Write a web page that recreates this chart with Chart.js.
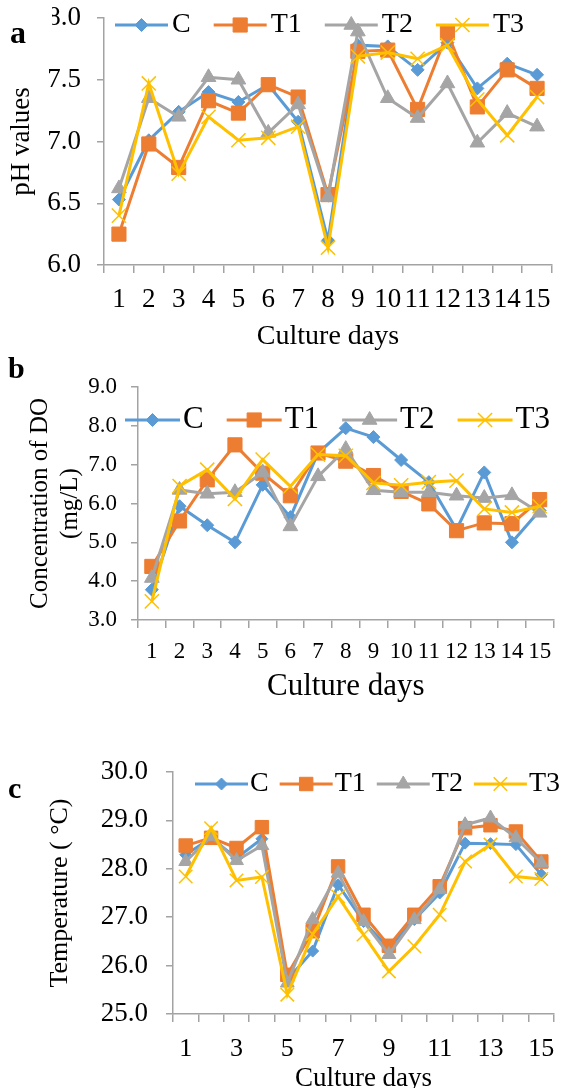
<!DOCTYPE html>
<html><head><meta charset="utf-8">
<script src="https://cdn.jsdelivr.net/npm/chart.js@4.4.1/dist/chart.umd.min.js"></script>
<style>
html,body{margin:0;padding:0;background:#fff;width:565px;height:1088px;overflow:hidden;position:relative;}
.wrap{position:absolute;left:0;width:565px;}
canvas{display:block;}
.lbl{position:absolute;font-weight:bold;font-family:"Liberation Serif","Times New Roman",serif;line-height:1;color:#000;}
</style></head><body>
<div class="wrap" style="top:0;height:360px"><canvas id="ca" width="565" height="360"></canvas></div>
<div class="wrap" style="top:350px;height:355px"><canvas id="cb" width="565" height="355"></canvas></div>
<div class="wrap" style="top:730px;height:370px"><canvas id="cc" width="565" height="370"></canvas></div>
<div class="lbl" style="left:10px;top:5px;width:42px;height:40px;padding-top:11px;box-sizing:border-box;font-size:32px;background:#fff;">a</div>
<div class="lbl" style="left:8px;top:353px;font-size:30px;">b</div>
<div class="lbl" style="left:8px;top:773px;font-size:30px;">c</div>
<script>
// ---------- data ----------
const days = ['1','2','3','4','5','6','7','8','9','10','11','12','13','14','15'];
const seriesNames = ['C','T1','T2','T3'];

const phC  = [6.53, 7.01, 7.24, 7.40, 7.32, 7.46, 7.16, 6.20, 7.78, 7.77, 7.58, 7.80, 7.43, 7.63, 7.54];
const phT1 = [6.25, 6.98, 6.79, 7.33, 7.23, 7.46, 7.36, 6.57, 7.73, 7.74, 7.26, 7.88, 7.28, 7.58, 7.43];
const phT2 = [6.62, 7.35, 7.20, 7.52, 7.50, 7.07, 7.30, 6.55, 7.89, 7.35, 7.19, 7.47, 6.99, 7.23, 7.12];
const phT3 = [6.40, 7.47, 6.74, 7.20, 7.01, 7.03, 7.12, 6.14, 7.69, 7.72, 7.67, 7.78, 7.34, 7.05, 7.36];

const doC  = [3.78, 5.93, 5.44, 5.00, 6.48, 5.65, 7.30, 7.94, 7.71, 7.12, 6.55, 5.33, 6.80, 5.00, 5.82];
const doT1 = [4.38, 5.55, 6.61, 7.51, 6.78, 6.20, 7.30, 7.09, 6.72, 6.31, 5.99, 5.30, 5.50, 5.48, 6.10];
const doT2 = [4.08, 6.35, 6.25, 6.29, 6.80, 5.41, 6.70, 7.40, 6.34, 6.29, 6.29, 6.20, 6.14, 6.21, 5.76];
const doT3 = [3.48, 6.45, 6.87, 6.12, 7.13, 6.44, 7.26, 7.23, 6.53, 6.47, 6.55, 6.59, 5.86, 5.77, 5.93];

const tC  = [28.29, 28.64, 28.22, 28.62, 25.71, 26.30, 27.67, 26.91, 26.36, 26.95, 27.50, 28.53, 28.52, 28.50, 27.88];
const tT1 = [28.48, 28.64, 28.43, 28.86, 25.81, 26.71, 28.05, 27.05, 26.41, 27.05, 27.64, 28.84, 28.90, 28.77, 28.15];
const tT2 = [28.15, 28.67, 28.17, 28.48, 25.64, 26.95, 27.91, 26.91, 26.23, 26.95, 27.57, 28.91, 29.05, 28.64, 28.12];
const tT3 = [27.84, 28.84, 27.76, 27.83, 25.40, 26.65, 27.43, 26.64, 25.88, 26.40, 27.05, 28.15, 28.50, 27.84, 27.79];

const phTicks = [6.0, 6.5, 7.0, 7.5, 8.0];
const doTicks = [3, 4, 5, 6, 7, 8, 9];
const tempTicks = [25, 26, 27, 28, 29, 30];

// ---------- style ----------
const FONT = '"Liberation Serif", "Times New Roman", serif';
const AXIS = '#A3A3A3';
const colors = ['#5B9BD5', '#ED7D31', '#A5A5A5', '#FFC000'];
const styles = ['rectRot', 'rect', 'triangle', 'crossRot'];
Chart.defaults.font.family = FONT;
Chart.defaults.color = '#000';

function makeDatasets(arrs, radii) {
  return arrs.map((d, i) => ({
    label: seriesNames[i],
    data: d,
    borderColor: colors[i],
    backgroundColor: colors[i],
    pointBackgroundColor: colors[i],
    pointBorderColor: colors[i],
    pointBorderWidth: i === 3 ? 1.5 : 1,
    borderWidth: 3,
    pointStyle: styles[i],
    pointRadius: radii[i],
    pointHoverRadius: radii[i],
    tension: 0,
    fill: false,
    order: 3 - i
  }));
}

const overlayLegend = {
  id: 'overlayLegend',
  afterDraw(chart, args, o) {
    const ctx = chart.ctx;
    ctx.save();
    ctx.font = o.size + 'px ' + FONT;
    ctx.textBaseline = 'middle';
    ctx.textAlign = 'left';
    let x = o.x;
    chart.data.datasets.forEach(ds => {
      ctx.strokeStyle = ds.borderColor;
      ctx.lineWidth = ds.borderWidth;
      ctx.beginPath(); ctx.moveTo(x, o.y); ctx.lineTo(x + o.line, o.y); ctx.stroke();
      ctx.fillStyle = ds.pointBackgroundColor;
      ctx.strokeStyle = ds.pointBorderColor;
      ctx.lineWidth = ds.pointBorderWidth;
      Chart.helpers.drawPoint(ctx, {pointStyle: ds.pointStyle, radius: ds.pointRadius, rotation: 0, borderWidth: ds.pointBorderWidth}, x + o.line / 2, o.y);
      x += o.line + o.gap;
      ctx.fillStyle = '#000';
      ctx.fillText(ds.label, x, o.y);
      x += ctx.measureText(ds.label).width + o.space;
    });
    ctx.restore();
  }
};

function fix(dim, val) {
  return function (scale) {
    scale[dim] = val;
    scale.paddingLeft = 0; scale.paddingRight = 0; scale.paddingTop = 0; scale.paddingBottom = 0;
  };
}

function build(id, p) {
  const tickVals = p.ticks;
  new Chart(document.getElementById(id), {
    type: 'line',
    data: { labels: days, datasets: makeDatasets(p.data, p.radii) },
    plugins: [overlayLegend],
    options: {
      responsive: false,
      animation: false,
      devicePixelRatio: 1,
      layout: { padding: p.padding },
      plugins: {
        legend: { display: false },
        tooltip: { enabled: false },
        overlayLegend: p.legend
      },
      scales: {
        x: {
          type: 'category',
          offset: true,
          grid: { offset: true, drawOnChartArea: false, drawTicks: true, tickLength: 8, color: AXIS, lineWidth: 1.5 },
          border: { display: true, color: AXIS, width: 1.5 },
          ticks: {
            autoSkip: false, maxRotation: 0, minRotation: 0,
            font: { size: p.xTickSize }, padding: p.xTickPad, color: '#000',
            callback: function (v, i) { return (p.oddOnly && i % 2 === 1) ? '' : this.getLabelForValue(v); }
          },
          title: { display: true, text: 'Culture days', font: { size: p.xTitleSize }, padding: { top: 0, bottom: p.xTitlePad }, color: '#000' },
          afterFit: fix('height', p.xHeight)
        },
        y: {
          min: tickVals[0], max: tickVals[tickVals.length - 1],
          afterBuildTicks: (s) => { s.ticks = tickVals.map(v => ({ value: v })); },
          grid: { drawOnChartArea: false, drawTicks: true, tickLength: 7, color: AXIS, lineWidth: 1.5 },
          border: { display: true, color: AXIS, width: 1.5 },
          ticks: { font: { size: p.yTickSize }, padding: p.yTickPad, color: '#000', callback: v => Number(v).toFixed(1) },
          title: { display: true, text: p.yTitle, font: { size: p.yTitleSize, lineHeight: 1.2 }, padding: { top: p.yTitlePad, bottom: 0 }, color: '#000' },
          afterFit: fix('width', p.yWidth)
        }
      }
    }
  });
}

build('ca', {
  data: [phC, phT1, phT2, phT3], ticks: phTicks, radii: [6.5, 10, 8.5, 10],
  padding: { top: 18, right: 13, left: 0, bottom: 0 },
  xHeight: 95, yWidth: 104,
  xTickSize: 27, xTickPad: 11, yTickSize: 27, yTickPad: 16,
  xTitleSize: 28, xTitlePad: 7,
  yTitle: 'pH values', yTitleSize: 27, yTitlePad: 6,
  legend: { x: 115, y: 25, line: 53, gap: 4, space: 23, size: 28 }
});

build('cb', {
  data: [doC, doT1, doT2, doT3], ticks: doTicks, radii: [6.5, 10, 8.5, 10],
  padding: { top: 37, right: 0, left: 0, bottom: 0 },
  xHeight: 85, yWidth: 138,
  xTickSize: 23, xTickPad: 10, yTickSize: 23, yTickPad: 14,
  xTitleSize: 31, xTitlePad: 0,
  yTitle: ['Concentration of DO', '(mg/L)'], yTitleSize: 25, yTitlePad: 25,
  legend: { x: 125, y: 70, line: 55, gap: 3, space: 23, size: 31 }
});

build('cc', {
  data: [tC, tT1, tT2, tT3], ticks: tempTicks, radii: [6, 9.5, 8, 9.5],
  padding: { top: 42, right: 7, left: 0, bottom: 0 },
  xHeight: 86, yWidth: 173, oddOnly: true,
  xTickSize: 26, xTickPad: 12, yTickSize: 27, yTickPad: 18,
  xTitleSize: 27, xTitlePad: 5,
  yTitle: 'Temperature ( °C)', yTitleSize: 26, yTitlePad: 45,
  legend: { x: 195, y: 54, line: 53, gap: 2, space: 11, size: 28 }
});
</script>
</body></html>
